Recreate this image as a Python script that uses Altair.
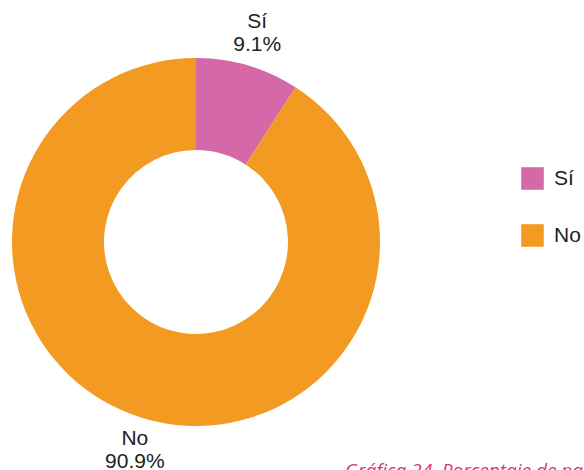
import altair as alt
import pandas as pd

categories = ["Sí", "No"]
values = [9.1, 90.9]
pct_labels = ["9.1%", "90.9%"]
colors = ["#D568A6", "#F39A22"]
caption = "Gráfica 24. Porcentaje de participantes"

df = pd.DataFrame({
    "cat": categories,
    "val": values,
    "order": list(range(len(categories))),
    "pct": pct_labels,
})

CX, CY = 196, 242
LABEL_R = 217
FONT = "Liberation Sans"
FS = 21

base = alt.Chart(df).encode(
    theta=alt.Theta("val:Q", stack=True),
    order=alt.Order("order:Q"),
)

arcs = base.mark_arc(outerRadius=184, innerRadius=92, stroke=None).encode(
    x=alt.value(CX),
    y=alt.value(CY),
    color=alt.Color(
        "cat:N",
        scale=alt.Scale(domain=categories, range=colors),
        sort=categories,
        legend=alt.Legend(
            title=None,
            orient="none",
            legendX=521,
            legendY=167,
            symbolType="square",
            symbolSize=510,
            symbolStrokeWidth=0,
            labelFontSize=FS,
            labelFont=FONT,
            labelColor="#222222",
            rowPadding=34,
            labelOffset=10,
        ),
    ),
)

name_lbl = base.mark_text(
    radius=LABEL_R, dy=-11.5, fontSize=FS, font=FONT, color="#222222",
    align="center", baseline="middle",
).encode(x=alt.value(CX), y=alt.value(CY), text="cat:N")

pct_lbl = base.mark_text(
    radius=LABEL_R, dy=11.5, fontSize=FS, font=FONT, color="#222222",
    align="center", baseline="middle",
).encode(x=alt.value(CX), y=alt.value(CY), text="pct:N")

cap = alt.Chart(pd.DataFrame({"t": [caption]})).mark_text(
    align="left", baseline="alphabetic", fontSize=19, font="Open Sans",
    fontStyle="italic", color="#D6347F",
).encode(
    x=alt.value(345), y=alt.value(477), text="t:N"
)

chart = alt.layer(arcs, name_lbl, pct_lbl, cap).properties(
    width=584, height=470,
    autosize=alt.AutoSizeParams(type="none"),
    padding=0,
).configure_view(stroke=None)

chart.save("out.html", embed_options={"renderer": "svg", "actions": False})
